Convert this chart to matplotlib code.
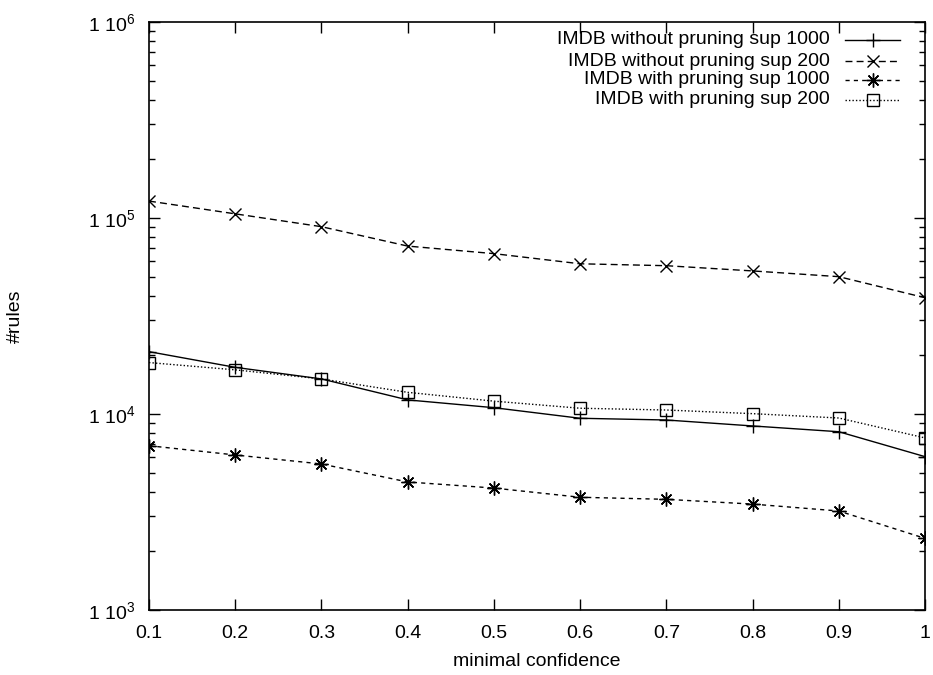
import math
import matplotlib
matplotlib.use("Agg")
import matplotlib.pyplot as plt
from matplotlib.ticker import FixedLocator, LogLocator, NullFormatter, FuncFormatter
from matplotlib.lines import Line2D

plt.rcParams['font.family'] = ['Liberation Sans', 'DejaVu Sans']
plt.rcParams['mathtext.fontset'] = 'custom'
plt.rcParams['mathtext.rm'] = 'Liberation Sans'
plt.rcParams['mathtext.it'] = 'Liberation Sans'

confidence = [0.1, 0.2, 0.3, 0.4, 0.5, 0.6, 0.7, 0.8, 0.9, 1.0]
no_prune_1000 = [20800, 17300, 15100, 11800, 10770, 9510, 9320, 8690, 8120, 6060]
no_prune_200 = [122000, 105000, 90300, 71900, 65800, 58400, 57100, 53700, 50200, 39200]
prune_1000 = [6890, 6180, 5560, 4500, 4190, 3760, 3670, 3470, 3200, 2320]
prune_200 = [18300, 16800, 15100, 12900, 11630, 10700, 10480, 10040, 9540, 7550]

labels = ["IMDB without pruning sup 1000", "IMDB without pruning sup 200",
          "IMDB with pruning sup 1000", "IMDB with pruning sup 200"]
x_ticks = [0.1, 0.2, 0.3, 0.4, 0.5, 0.6, 0.7, 0.8, 0.9, 1.0]
x_tick_labels = ["0.1", "0.2", "0.3", "0.4", "0.5", "0.6", "0.7", "0.8", "0.9", "1"]
y_ticks = [1e3, 1e4, 1e5, 1e6]

fig = plt.figure(figsize=(9.33, 6.75), dpi=100)
ax = fig.add_axes([149/933, 1-610/675, (925-149)/933, (610-22)/675])

asterisk = (8, 2, 0)
styles = [
    dict(linestyle='-', marker='+', ms=10, mew=1.0),
    dict(linestyle=(0, (5, 3)), marker='x', ms=8, mew=1.0),
    dict(linestyle=(0, (3, 3)), marker=asterisk, ms=10, mew=1.0),
    dict(linestyle=(0, (1, 1.5)), marker='s', ms=8, mew=1.0, mfc='none'),
]
series = [no_prune_1000, no_prune_200, prune_1000, prune_200]
for ys, st, lab in zip(series, styles, labels):
    ax.plot(confidence, ys, color='black', lw=1.0, label=lab, **st)

ax.set_yscale('log')
ax.set_xlim(0.1, 1.0)
ax.set_ylim(1e3, 1e6)
ax.xaxis.set_major_locator(FixedLocator(x_ticks))
ax.set_xticklabels(x_tick_labels)
ax.yaxis.set_major_locator(FixedLocator(y_ticks))
ax.yaxis.set_major_formatter(FuncFormatter(lambda v, p: r"1 10$^{%d}$" % round(math.log10(v))))
ax.yaxis.set_minor_locator(LogLocator(base=10, subs=range(2, 10)))
ax.yaxis.set_minor_formatter(NullFormatter())
ax.tick_params(which='both', direction='in', top=True, right=True, labelsize=14)
ax.tick_params(which='major', length=8, width=1)
ax.tick_params(which='minor', length=4, width=1)
ax.tick_params(axis='x', pad=11)
ax.tick_params(axis='y', pad=10)
for s in ax.spines.values():
    s.set_linewidth(1.2)

ax.set_xlabel("minimal confidence", fontsize=14, labelpad=8)
ax.set_ylabel("#rules", fontsize=14, labelpad=46)

# gnuplot-style legend: right-aligned text, sample on the right
leg_rows_px = [40, 61, 80, 100]
for ys_px, st, lab in zip(leg_rows_px, styles, labels):
    yf = 1 - ys_px / 675
    fig.text(830/933, yf, lab, ha='right', va='center', fontsize=14)
    ln = Line2D([845/933, 900/933], [yf, yf], transform=fig.transFigure, color='black', lw=1.0,
                linestyle=st['linestyle'])
    fig.add_artist(ln)
    mk = Line2D([873/933], [yf], transform=fig.transFigure, color='black', linestyle='none',
                marker=st['marker'], ms=st['ms'], mew=st['mew'], mfc=st.get('mfc', 'black'))
    fig.add_artist(mk)

fig.savefig("out.png", dpi=100)
